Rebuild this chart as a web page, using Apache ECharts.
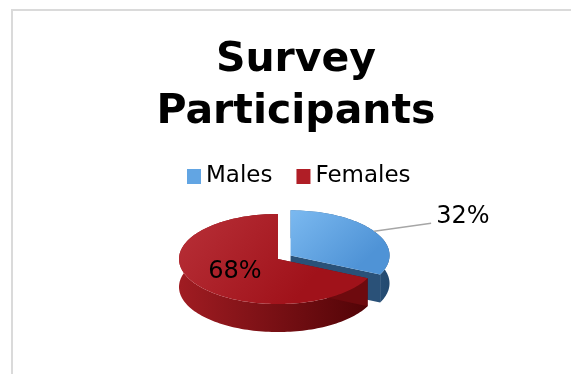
<!DOCTYPE html>
<html>
<head>
<meta charset="utf-8">
<script src="https://cdn.jsdelivr.net/npm/echarts@6/dist/echarts.min.js"></script>
<style>
  html, body { margin: 0; padding: 0; background: #fff; }
  #chart { width: 571px; height: 374px; }
</style>
</head>
<body>
<div id="chart"></div>
<script>
// Chart content
const titleText = 'Survey\nParticipants';
const categories = ['Males', 'Females'];
const shares = [32, 68];            // percent of participants
const sliceLabels = ['32%', '68%'];
const explodeBy = [0.15, 0];        // slice pulled out, as a fraction of the radius

const FONT = 'DejaVu Sans';
const TILT = 0.455;    // vertical squash of the pie's top face
const DEPTH = 28;      // thickness of the pie, px

const palette = {
  Males:   { top: ['#7bb9f0', '#4f93d6'], side: ['#3d73a6', '#23496f'], face: '#2a5178', legend: '#62a5e3' },
  Females: { top: ['#b83038', '#a0121a'], side: ['#a01c22', '#520407'], face: '#6e0a0e', legend: '#b01e26' }
};

// cumulative start of each slice on the 0..100 angle scale
const starts = shares.map((_, i) => shares.slice(0, i).reduce((a, b) => a + b, 0));

function renderSlice(idx) {
  const name = categories[idx];
  const col = palette[name];
  return function (params, api) {
    const share = api.value(0);
    const start = api.value(1);
    const mid = start + share / 2;
    const c0 = api.coord([0, 0]);
    const cx = c0[0], cy = c0[1];
    // polar point flattened into an ellipse
    const flat = (r, v) => {
      const p = api.coord([r, v]);
      return [p[0], cy + (p[1] - cy) * TILT];
    };
    const o = flat(explodeBy[idx], mid);
    const ox = o[0] - cx, oy = o[1] - cy;
    const P = (r, v, dz) => {
      const p = flat(r, v);
      return [p[0] + ox, p[1] + oy + (dz || 0)];
    };

    const steps = Math.max(12, Math.ceil(share * 2));
    const topArc = [], botArc = [];
    for (let i = 0; i <= steps; i++) {
      const v = start + share * i / steps;
      topArc.push(P(1, v));
      botArc.push(P(1, v, DEPTH));
    }
    const ctr = P(0, start), ctrB = P(0, start, DEPTH);
    const last = topArc.length - 1;

    const children = [
      { // outer wall
        type: 'polygon',
        shape: { points: topArc.concat(botArc.slice().reverse()) },
        style: { fill: new echarts.graphic.LinearGradient(0, 0, 1, 0, [
          { offset: 0, color: col.side[0] }, { offset: 1, color: col.side[1] }]) }
      },
      { // cut face at the slice start
        type: 'polygon',
        shape: { points: [ctr, topArc[0], botArc[0], ctrB] },
        style: { fill: col.face }
      },
      { // cut face at the slice end
        type: 'polygon',
        shape: { points: [ctr, topArc[last], botArc[last], ctrB] },
        style: { fill: col.face }
      },
      { // top face
        type: 'polygon',
        shape: { points: [ctr].concat(topArc) },
        style: { fill: new echarts.graphic.LinearGradient(0, 0, 0.6, 1, [
          { offset: 0, color: col.top[0] }, { offset: 1, color: col.top[1] }]) }
      }
    ];

    if (idx === 0) {
      // label outside with a leader line
      const a = P(1, mid);
      const b = [a[0] + 57, a[1] - 8];
      children.push({
        type: 'polyline',
        shape: { points: [a, b] },
        style: { stroke: '#a6a6a6', lineWidth: 1.3, fill: null }
      });
      children.push({
        type: 'text',
        x: b[0] + 5, y: b[1] - 6,
        style: { text: sliceLabels[idx], fontSize: 24, fontFamily: FONT, fill: '#000',
                 align: 'left', verticalAlign: 'middle' }
      });
    } else {
      const t = P(0.54, mid);
      children.push({
        type: 'text',
        x: t[0] + 2, y: t[1],
        style: { text: sliceLabels[idx], fontSize: 24, fontFamily: FONT, fill: '#000',
                 align: 'center', verticalAlign: 'middle' }
      });
    }
    return { type: 'group', children: children };
  };
}

const chart = echarts.init(document.getElementById('chart'), null, { renderer: 'canvas' });
chart.setOption({
  animation: false,
  backgroundColor: '#fff',
  graphic: [
    { type: 'line', shape: { x1: 12, y1: 10, x2: 12, y2: 380 }, style: { stroke: '#dadada', lineWidth: 2 }, silent: true },
    { type: 'line', shape: { x1: 11, y1: 10, x2: 580, y2: 10 }, style: { stroke: '#dadada', lineWidth: 2 }, silent: true }
  ],
  title: {
    text: titleText,
    left: 296,
    textAlign: 'center',
    top: 34,
    padding: 0,
    textStyle: { fontSize: 41, fontWeight: 'bold', fontFamily: FONT, lineHeight: 52, color: '#000' }
  },
  legend: {
    data: categories,
    left: 187,
    top: 165,
    padding: 0,
    icon: 'rect',
    itemWidth: 14,
    itemHeight: 15,
    itemGap: 24,
    selectedMode: false,
    textStyle: { fontSize: 23, fontFamily: FONT, color: '#000' }
  },
  polar: { center: [278, 259], radius: 99 },
  angleAxis: { type: 'value', min: 0, max: 100, startAngle: 90, clockwise: true, show: false },
  radiusAxis: { type: 'value', min: 0, max: 1, show: false },
  series: categories.map((name, i) => ({
    type: 'custom',
    name: name,
    coordinateSystem: 'polar',
    silent: true,
    itemStyle: { color: palette[name].legend },
    data: [[shares[i], starts[i]]],
    renderItem: renderSlice(i)
  }))
});
</script>
</body>
</html>
